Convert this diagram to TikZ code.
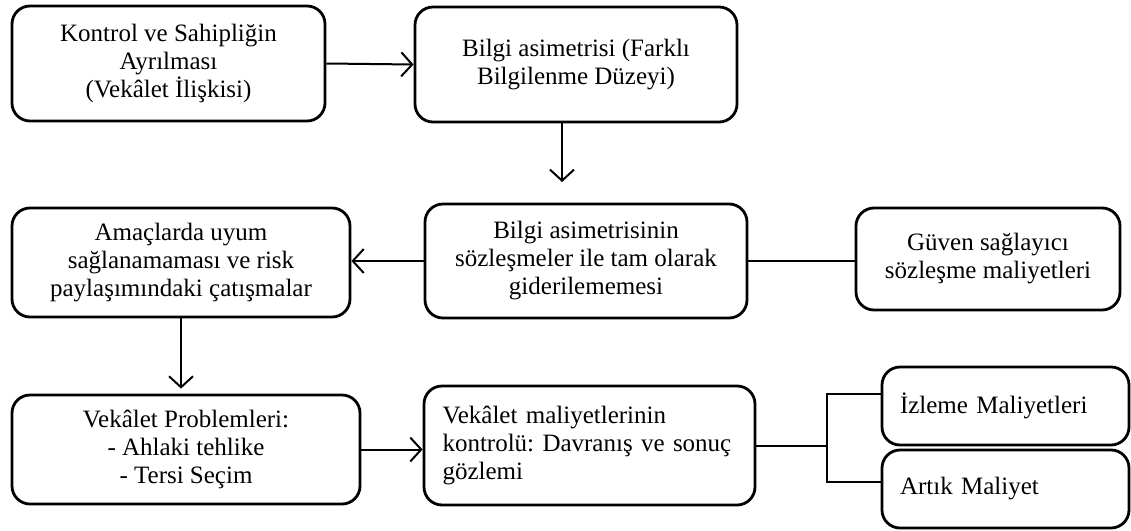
\documentclass[tikz,border=0pt]{standalone}
\usepackage{fontspec}
\setmainfont{Liberation Serif}
\usepackage{tikz}
\usetikzlibrary{positioning,arrows.meta}

\begin{document}
\begin{tikzpicture}[x=1pt, y=-1pt,
        kutu/.style={draw, line width=2.8pt, rounded corners=18pt, inner sep=2pt,
                align=center, font=\fontsize{25}{28}\selectfont\frenchspacing},
        ok/.style={line width=2pt, -{Straight Barb[length=11pt, width=24pt, line width=2pt]}},
        cizgi/.style={line width=2pt}]
        \useasboundingbox (0,0) rectangle (1131,530);

        % Boxes
        \node[kutu, minimum width=313, minimum height=115] (kontrol) at (168.5,63.5)
                {Kontrol ve Sahipliğin\\Ayrılması\\(Vekâlet İlişkisi)};
        \node[kutu, minimum width=322, minimum height=115] (bilgi) at (576,64.5)
                {Bilgi asimetrisi (Farklı\\Bilgilenme Düzeyi)};
        \node[kutu, minimum width=338, minimum height=109] (amac) at (181,262.5)
                {Amaçlarda uyum\\sağlanamaması ve risk\\paylaşımındaki çatışmalar};
        \node[kutu, minimum width=322, minimum height=114] (asim) at (586,261)
                {Bilgi asimetrisinin\\sözleşmeler ile tam olarak\\giderilememesi};
        \node[kutu, minimum width=264, minimum height=102] (guven) at (988,259)
                {Güven sağlayıcı\\sözleşme maliyetleri};
        \node[kutu, minimum width=348, minimum height=109] (vekprob) at (186,449.5)
                {Vekâlet Problemleri:\\- Ahlaki tehlike\\- Tersi Seçim};
        \node[kutu, minimum width=331, minimum height=119, text width=294, align=left] (maliyet) at (589.5,445.5)
                {Vekâlet maliyetlerinin\\kontrolü: Davranış ve sonuç\\gözlemi};
        \node[kutu, minimum width=247, minimum height=78, text width=211, align=left] (izleme) at (1005.5,406)
                {İzleme Maliyetleri};
        \node[kutu, minimum width=247, minimum height=78, text width=211, align=left] (artik) at (1005.5,489)
                {Artık Maliyet};

        \coordinate (okucu) at (562,182);
        \coordinate (kolust) at (827,394);
        \coordinate (kolalt) at (827,482);

        % Edges
        \draw[ok] (kontrol.east) -- (bilgi.west);
        \draw[ok] (bilgi.south -| okucu) -- (okucu);
        \draw[ok] (asim.west) -- (asim.west -| amac.east);
        \draw[cizgi] (asim.east) -- (asim.east -| guven.west);
        \draw[ok] (amac.south) -- ([yshift=5]amac.south |- vekprob.north);
        \draw[ok] (vekprob.east) -- (vekprob.east -| maliyet.west);
        \draw[cizgi] (maliyet.east) -- (maliyet.east -| kolust);
        \draw[cizgi] (izleme.west |- kolust) -- (kolust) -- (kolalt) -- (artik.west |- kolalt);
\end{tikzpicture}
\end{document}
